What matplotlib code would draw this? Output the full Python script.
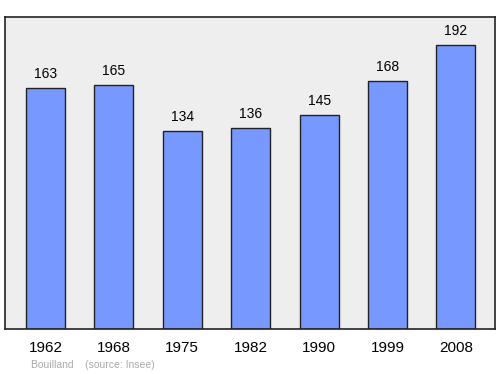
import matplotlib.pyplot as plt

plt.rcParams['font.family'] = ['Liberation Sans', 'DejaVu Sans']

# data
years = ['1962', '1968', '1975', '1982', '1990', '1999', '2008']
population = [163, 165, 134, 136, 145, 168, 192]

fig = plt.figure(figsize=(5, 3.74), dpi=100)
ax = fig.add_axes([5 / 500, 1 - 329 / 374, 490 / 500, 312 / 374])
ax.set_facecolor('#eeeeee')

x = range(len(years))
ax.bar(x, population, width=0.57, color='#7799ff', edgecolor='#222222', linewidth=1)

for i, v in zip(x, population):
    ax.text(i, v + 4.5, str(v), ha='center', va='bottom', fontsize=10)

ax.set_xlim(-0.59, 6.57)
ax.set_ylim(0, 211)
ax.set_yticks([])
ax.set_xticks(list(x))
ax.set_xticklabels(years, fontsize=11)
ax.tick_params(axis='x', length=0, pad=9)
for s in ax.spines.values():
    s.set_linewidth(1.2)
    s.set_color('#222222')

fig.text(31 / 500, 1 - 365 / 374, 'Bouilland    (source: Insee)', fontsize=7.5,
         color='#aaaaaa', va='center')

fig.savefig('out.png', dpi=100)
